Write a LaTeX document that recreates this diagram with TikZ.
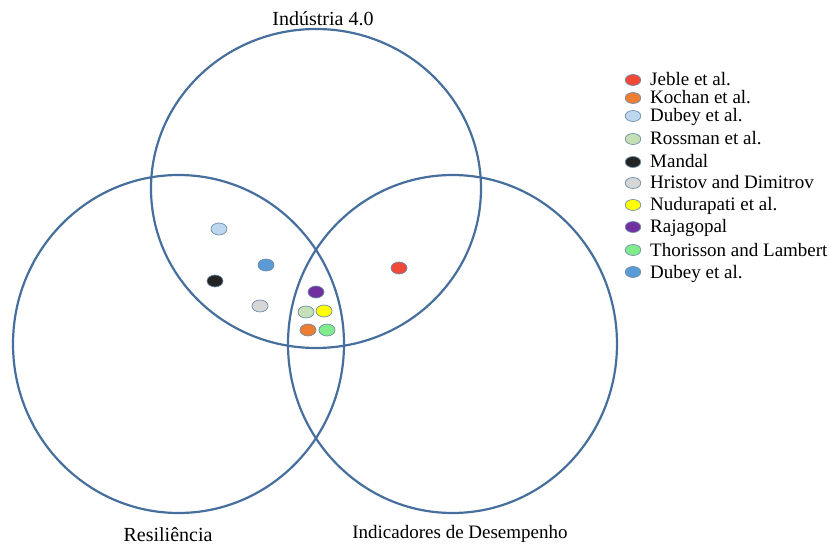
\documentclass[tikz,border=0pt]{standalone}
\usepackage{fontspec}
\setmainfont{Liberation Serif}
\usetikzlibrary{shapes.geometric}

\definecolor{ringblue}{RGB}{70,111,157}
\definecolor{dotedge}{RGB}{110,140,170}
\definecolor{cjeble}{RGB}{242,72,56}
\definecolor{ckochan}{RGB}{237,125,49}
\definecolor{cdubeyA}{RGB}{189,215,238}
\definecolor{crossman}{RGB}{197,224,180}
\definecolor{cmandal}{RGB}{36,36,36}
\definecolor{christov}{RGB}{215,215,215}
\definecolor{cnudu}{RGB}{255,255,0}
\definecolor{craja}{RGB}{112,48,160}
\definecolor{cthor}{RGB}{130,236,140}
\definecolor{cdubeyB}{RGB}{91,155,213}

\tikzset{
  ring/.style={draw=ringblue, line width=2.2pt},
  dot/.style={ellipse, draw=dotedge, line width=0.7pt, minimum width=16pt,
    minimum height=12pt, inner sep=0pt},
  keytext/.style={anchor=base west, inner sep=0pt, font=\fontsize{19}{21}\selectfont},
}

\begin{document}
\begin{tikzpicture}[x=1pt, y=-1pt, font=\fontsize{20}{23}\selectfont]
\useasboundingbox (0,0) rectangle (830,548);

% the three sets
\draw[ring] (316,188.5) ellipse [x radius=165pt, y radius=159.5pt];
\draw[ring] (178.5,344) ellipse [x radius=165.5pt, y radius=169pt];
\draw[ring] (452.5,344) ellipse [x radius=164.5pt, y radius=169pt];

\node[anchor=base] (industria) at (323,26) {Indústria 4.0};
\node[anchor=base] (resiliencia) at (168,541) {Resiliência};
\node[anchor=base, font=\fontsize{19}{21}\selectfont] (indicadores) at (460,538) {Indicadores de Desempenho};

% works placed in the sets
\node[dot, fill=cdubeyA]  (dubeyA)   at (219,229) {};
\node[dot, fill=cdubeyB]  (dubeyB)   at (266,265) {};
\node[dot, fill=cmandal]  (mandal)   at (215,281) {};
\node[dot, fill=christov] (hristov)  at (260,306) {};
\node[dot, fill=craja]    (raja)     at (316,292) {};
\node[dot, fill=crossman] (rossman)  at (306,312) {};
\node[dot, fill=cnudu]    (nudu)     at (324,311) {};
\node[dot, fill=ckochan]  (kochan)   at (308,330) {};
\node[dot, fill=cthor]    (thor)     at (327,330) {};
\node[dot, fill=cjeble]   (jeble)    at (399,268) {};

% legend
\foreach \c/\t/\y [count=\i] in {cjeble/Jeble et al./80, ckochan/Kochan et al./98,
    cdubeyA/Dubey et al./116, crossman/Rossman et al./139, cmandal/Mandal/162,
    christov/Hristov and Dimitrov/183, cnudu/Nudurapati et al./205,
    craja/Rajagopal/227, cthor/Thorisson and Lambert/250, cdubeyB/Dubey et al./272}
{
  \node[dot, fill=\c, minimum width=15.5pt, minimum height=11pt] (key\i) at (633,\y) {};
  \node[keytext] (label\i) at (650,\y+6) {\t};
}

\end{tikzpicture}
\end{document}
